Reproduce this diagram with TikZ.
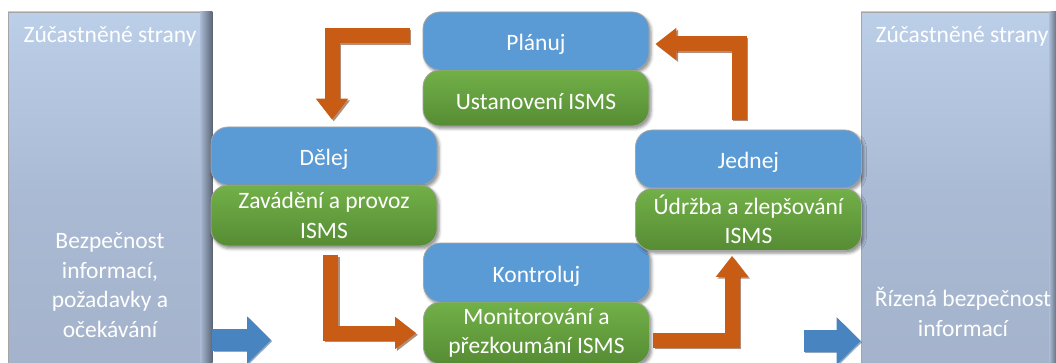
\documentclass[tikz,border=0pt]{standalone}
\usepackage{fontspec}
\setmainfont{Carlito}
\usetikzlibrary{arrows.meta,shadows.blur,calc}

\definecolor{boxblue}{RGB}{91,155,213}
\definecolor{boxrim}{RGB}{165,165,165}
\definecolor{greentop}{RGB}{114,176,72}
\definecolor{greenbot}{RGB}{86,140,52}
\definecolor{orangefill}{RGB}{200,92,20}
\definecolor{orangedark}{RGB}{115,50,12}
\definecolor{paneltop}{RGB}{188,207,232}
\definecolor{panelmid}{RGB}{170,186,212}
\definecolor{panelbot}{RGB}{164,179,203}
\definecolor{paneledge}{RGB}{92,102,118}
\definecolor{flowblue}{RGB}{72,132,192}
\definecolor{flowdark}{RGB}{38,82,130}

\tikzset{
  txt/.style={text=white, font=\fontsize{23.5}{29.5}\selectfont, align=center, inner sep=0pt},
  oneline/.style={text height=19pt, text depth=0pt},
  softshadow/.style={blur shadow={shadow xshift=2pt, shadow yshift=-2.5pt,
      shadow blur radius=3pt, shadow opacity=45}},
  phase/.style={txt, oneline, rectangle, rounded corners=17pt, minimum width=226pt,
      minimum height=58pt, fill=boxblue, draw=boxrim, line width=0.8pt, softshadow},
  task/.style={txt, rectangle, rounded corners=17pt, minimum width=226pt,
      top color=greentop, bottom color=greenbot, draw=boxrim, line width=0.8pt, softshadow},
  panel/.style={rectangle, minimum width=204pt, minimum height=362pt, inner sep=0pt,
      top color=paneltop, bottom color=panelbot, middle color=panelmid,
      draw=boxrim, line width=0.6pt},
  paneltxt/.style={txt},
  cycle/.style={line width=15pt, draw=orangefill, line join=miter,
      -{Triangle[width=31pt,length=21pt]}},
  cycleshadow/.style={cycle, draw=orangedark, opacity=0.55,
      transform canvas={shift={(1.8pt,-1.8pt)}}},
  flow/.style={line width=22pt, draw=flowblue,
      -{Triangle[width=46pt,length=24pt]}},
  flowshadow/.style={flow, draw=flowdark, opacity=0.5,
      transform canvas={shift={(1.2pt,-1.2pt)}}},
}

\begin{document}
\begin{tikzpicture}[x=1pt,y=-1pt]
\useasboundingbox (0,0) rectangle (1056,363);
\clip (0,0) rectangle (1056,363);

% side panels: interested parties
\node[panel] (lpanel) at (110,193) {};
\shade[left color=panelmid, right color=paneledge]
  ([xshift=-12pt]lpanel.north east) rectangle (lpanel.south east);
\node[panel, minimum width=196pt] (rpanel) at (959,193) {};
\shade[left color=panelmid, right color=paneledge]
  ([xshift=-8pt]rpanel.north east) rectangle (rpanel.south east);

\node[paneltxt, oneline] (ltop) at (110,33.5) {Zúčastněné strany};
\node[paneltxt] (lbot) at (110,285) {Bezpečnost\\informací,\\požadavky a\\očekávání};
\node[paneltxt, oneline] (rtop) at (962,33.5) {Zúčastněné strany};
\node[paneltxt] (rbot) at (963,312) {Řízená bezpečnost\\informací};

% PDCA phases
\node[phase] (plan) at (536,41) {Plánuj};
\node[task, oneline, text height=23pt, minimum height=56pt] (ust) at (536,98) {Ustanovení ISMS};

\node[phase] (dele) at (324,156) {Dělej};
\node[task, minimum height=61pt] (zav) at (324,215.5) {Zavádění a provoz\\ISMS};

\node[phase, minimum height=59pt] (kon) at (536.5,272.5) {Kontroluj};
\node[task, minimum height=62pt] (mon) at (536.5,333) {Monitorování a\\přezkoumání ISMS};

\node[phase] (jed) at (748.5,159) {Jednej};
\node[task, minimum height=62pt] (udr) at (748.5,219.5) {Údržba a zlepšování\\ISMS};

% cycle arrows
\draw[cycleshadow] ([xshift=-13pt,yshift=5.5pt]plan.west) -| ([xshift=8pt,yshift=7pt]dele.north);
\draw[cycle]       ([xshift=-13pt,yshift=5.5pt]plan.west) -| ([xshift=8pt,yshift=7pt]dele.north);

\draw[cycleshadow] ([xshift=6.5pt,yshift=-9pt]zav.south) |- ([xshift=-7pt]mon.west);
\draw[cycle]       ([xshift=6.5pt,yshift=-9pt]zav.south) |- ([xshift=-7pt]mon.west);

\draw[cycleshadow] ([xshift=3pt,yshift=-7pt]mon.east) -| ([xshift=-16.5pt,yshift=-5pt]udr.south);
\draw[cycle]       ([xshift=3pt,yshift=-7pt]mon.east) -| ([xshift=-16.5pt,yshift=-5pt]udr.south);

\draw[cycleshadow] ([xshift=-9.5pt,yshift=10pt]jed.north) |- ([xshift=6pt,yshift=-3pt]plan.east);
\draw[cycle]       ([xshift=-9.5pt,yshift=10pt]jed.north) |- ([xshift=6pt,yshift=-3pt]plan.east);

% input and output arrows
\coordinate (inend) at (271,340);
\coordinate (outstart) at (804,341);
\draw[flowshadow] (lpanel.east |- inend) -- (inend);
\draw[flow] (lpanel.east |- inend) -- (inend);
\draw[flowshadow] (outstart) -- (rpanel.west |- outstart);
\draw[flow] (outstart) -- (rpanel.west |- outstart);
\end{tikzpicture}
\end{document}
